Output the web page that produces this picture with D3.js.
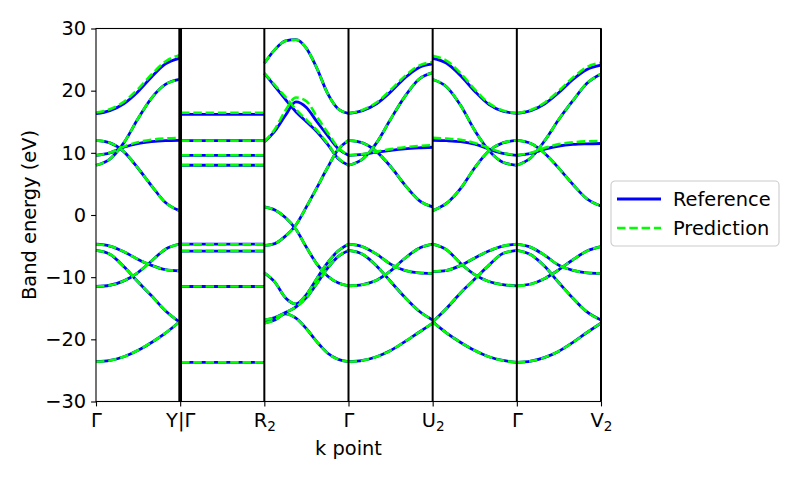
<!DOCTYPE html>
<html>
<head>
<meta charset="utf-8">
<script src="https://cdn.jsdelivr.net/npm/d3@7"></script>
<style>
    body { margin: 0; background: #fff; }
    svg { font-family: "DejaVu Sans", sans-serif; }
</style>
</head>
<body>
<svg id="chart" width="800" height="480"></svg>
<script>
// high-symmetry path: tick positions and labels ("_" marks a subscript)
const kTicks = [0, 1, 2, 3, 4, 5, 6];
const kLabels = ['Γ', 'Y|Γ', 'R_2', 'Γ', 'U_2', 'Γ', 'V_2'];
const kLines = [0.99, 1.01, 2, 3, 4, 5, 6];
const energyTicks = [-30, -20, -10, 0, 10, 20, 30];

// start / end k of every path segment
const segments = [[0, 0.99], [1.01, 2], [2, 3], [3, 4], [4, 5], [5, 6]];

// band energies (eV) sampled evenly along each segment
const refGammaY = [
    [16.3, 16.8, 17.9, 19.8, 22.2, 24.3, 25.2],
    [8.0, 9.0, 11.6, 15.4, 18.8, 21.0, 21.8],
    [12.0, 11.6, 10.2, 7.6, 4.7, 2.0, 0.7],
    [9.6, 10.0, 10.9, 11.5, 11.8, 11.95, 12.0],
    [-4.7, -5.0, -5.9, -7.1, -8.1, -8.8, -9.0],
    [-5.7, -6.3, -8.3, -10.7, -13.0, -15.4, -17.2],
    [-11.5, -11.3, -10.6, -9.3, -7.4, -5.5, -4.7],
    [-23.6, -23.4, -22.8, -21.8, -20.5, -19.0, -17.2]
];
const predGammaY = [
    [16.5, 17.0, 18.2, 20.2, 22.6, 24.7, 25.7],
    [8.0, 9.0, 11.6, 15.4, 18.8, 21.0, 21.8],
    [12.0, 11.6, 10.2, 7.6, 4.7, 2.0, 0.7],
    [9.6, 10.0, 11.0, 11.7, 12.1, 12.3, 12.4],
    [-4.7, -5.0, -5.9, -7.1, -8.1, -8.8, -9.0],
    [-5.7, -6.3, -8.3, -10.7, -13.0, -15.4, -17.2],
    [-11.5, -11.3, -10.6, -9.3, -7.4, -5.5, -4.7],
    [-23.6, -23.4, -22.8, -21.8, -20.5, -19.0, -17.2]
];

const refGammaR2 = [
    [16.2, 16.2], [11.95, 11.95], [9.6, 9.6], [8.0, 8.0],
    [-4.7, -4.7], [-5.8, -5.8], [-11.5, -11.5], [-23.7, -23.7]
];
const predGammaR2 = [
    [16.45, 16.45], [11.95, 11.95], [9.6, 9.6], [8.0, 8.0],
    [-4.7, -4.7], [-5.8, -5.8], [-11.5, -11.5], [-23.7, -23.7]
];

const refR2Gamma = [
    [24.4, 26.6, 28.0, 28.2, 26.8, 23.6, 19.6, 17.1, 16.35],
    [22.8, 20.7, 18.6, 16.6, 15.0, 13.4, 11.4, 9.1, 8.0],
    [11.8, 13.5, 16.0, 18.2, 17.3, 15.0, 12.8, 10.7, 9.6],
    [1.3, 0.8, -0.4, -2.3, -5.2, -7.9, -9.8, -10.9, -11.4],
    [-4.9, -4.6, -3.4, -1.6, 1.3, 4.4, 7.6, 10.5, 12.0],
    [-9.3, -10.8, -13.3, -14.3, -12.8, -10.2, -7.7, -5.8, -4.7],
    [-16.9, -16.5, -15.7, -14.8, -13.3, -11.0, -8.6, -6.7, -5.7],
    [-17.4, -16.9, -15.9, -16.6, -18.3, -20.4, -22.2, -23.2, -23.6]
];
const predR2Gamma = [
    [24.4, 26.6, 28.0, 28.2, 26.8, 23.6, 19.6, 17.1, 16.35],
    [22.8, 20.9, 19.0, 17.0, 15.3, 13.6, 11.5, 9.2, 8.0],
    [11.8, 13.8, 16.8, 18.9, 18.3, 15.8, 13.3, 10.9, 9.6],
    [1.3, 0.8, -0.4, -2.3, -5.2, -7.9, -9.8, -10.9, -11.4],
    [-4.9, -4.6, -3.4, -1.6, 1.3, 4.4, 7.6, 10.5, 12.0],
    [-9.3, -10.8, -13.3, -14.3, -12.8, -10.2, -7.7, -5.8, -4.7],
    [-16.9, -16.5, -15.7, -14.8, -13.3, -11.0, -8.6, -6.7, -5.7],
    [-17.4, -16.9, -15.9, -16.6, -18.3, -20.4, -22.2, -23.2, -23.6]
];

const refGammaU2 = [
    [16.35, 16.8, 17.9, 19.8, 22.0, 23.7, 24.3],
    [8.0, 9.0, 11.6, 15.4, 19.0, 21.8, 22.9],
    [12.0, 11.6, 10.2, 7.8, 4.9, 2.4, 1.3],
    [9.6, 9.75, 10.1, 10.4, 10.65, 10.8, 10.9],
    [-4.7, -5.1, -6.3, -7.9, -8.9, -9.3, -9.4],
    [-5.7, -6.3, -8.2, -10.7, -13.2, -15.4, -16.9],
    [-11.4, -11.2, -10.5, -9.0, -7.0, -5.4, -4.7],
    [-23.6, -23.4, -22.8, -21.8, -20.4, -18.9, -17.4]
];
const predGammaU2 = [
    [16.35, 16.9, 18.1, 20.1, 22.3, 24.0, 24.6],
    [8.0, 9.0, 11.6, 15.4, 19.0, 21.8, 22.9],
    [12.0, 11.6, 10.2, 7.8, 4.9, 2.4, 1.3],
    [9.6, 9.8, 10.2, 10.6, 10.9, 11.1, 11.25],
    [-4.7, -5.1, -6.3, -7.9, -8.9, -9.3, -9.4],
    [-5.7, -6.3, -8.2, -10.7, -13.2, -15.4, -16.9],
    [-11.4, -11.2, -10.5, -9.0, -7.0, -5.4, -4.7],
    [-23.6, -23.4, -22.8, -21.8, -20.4, -18.9, -17.4]
];

const refU2Gamma = [
    [25.2, 24.4, 22.4, 19.9, 17.8, 16.7, 16.35],
    [21.8, 20.6, 17.6, 13.6, 10.4, 8.5, 8.0],
    [12.0, 11.95, 11.8, 11.4, 10.6, 9.9, 9.6],
    [0.7, 1.9, 4.3, 7.6, 10.3, 11.6, 12.0],
    [-4.7, -5.6, -7.8, -9.6, -10.7, -11.2, -11.4],
    [-9.1, -8.9, -8.1, -6.9, -5.8, -5.0, -4.7],
    [-17.2, -15.0, -12.5, -10.3, -8.1, -6.2, -5.7],
    [-17.2, -19.0, -20.5, -21.8, -22.8, -23.4, -23.7]
];
const predU2Gamma = [
    [25.6, 24.8, 22.8, 20.2, 18.0, 16.8, 16.4],
    [21.8, 20.6, 17.6, 13.6, 10.4, 8.5, 8.0],
    [12.4, 12.3, 12.1, 11.6, 10.8, 10.0, 9.6],
    [0.7, 1.9, 4.3, 7.6, 10.3, 11.6, 12.0],
    [-4.7, -5.6, -7.8, -9.6, -10.7, -11.2, -11.4],
    [-9.1, -8.9, -8.1, -6.9, -5.8, -5.0, -4.7],
    [-17.2, -15.0, -12.5, -10.3, -8.1, -6.2, -5.7],
    [-17.2, -19.0, -20.5, -21.8, -22.8, -23.4, -23.7]
];

const refGammaV2 = [
    [16.35, 16.8, 17.9, 19.7, 21.8, 23.4, 24.1],
    [8.0, 9.2, 12.0, 15.4, 18.4, 21.2, 22.7],
    [12.0, 11.5, 9.9, 7.5, 4.9, 2.6, 1.45],
    [9.6, 9.9, 10.6, 11.1, 11.35, 11.45, 11.5],
    [-4.7, -5.2, -6.5, -8.1, -8.9, -9.3, -9.4],
    [-5.7, -6.4, -8.3, -10.9, -13.4, -15.6, -16.9],
    [-11.4, -11.1, -10.2, -8.8, -7.2, -5.8, -5.1],
    [-23.7, -23.5, -22.9, -21.9, -20.5, -18.9, -17.4]
];
const predGammaV2 = [
    [16.4, 16.9, 18.1, 20.0, 22.1, 23.8, 24.5],
    [8.0, 9.2, 12.0, 15.4, 18.4, 21.2, 22.7],
    [12.0, 11.5, 9.9, 7.5, 4.9, 2.6, 1.45],
    [9.6, 10.0, 10.8, 11.4, 11.7, 11.85, 11.9],
    [-4.7, -5.2, -6.5, -8.1, -8.9, -9.3, -9.4],
    [-5.7, -6.4, -8.3, -10.9, -13.4, -15.6, -16.9],
    [-11.4, -11.1, -10.2, -8.8, -7.2, -5.8, -5.1],
    [-23.7, -23.5, -22.9, -21.9, -20.5, -18.9, -17.4]
];

const refBands = [refGammaY, refGammaR2, refR2Gamma, refGammaU2, refU2Gamma, refGammaV2];
const predBands = [predGammaY, predGammaR2, predR2Gamma, predGammaU2, predU2Gamma, predGammaV2];

const seriesNames = ['Reference', 'Prediction'];

// ---------------------------------------------------------------

const fontSize = 19.4;
const plot = {left: 96, right: 601, top: 28.5, bottom: 401.5};
const refStyle = {stroke: '#0000ff', width: 2.8, dash: null};
const predStyle = {stroke: '#00ff00', width: 2.6, dash: '8.5,3.8'};

const svg = d3.select('#chart');

let x = d3.scaleLinear().domain([0, 6]).range([plot.left, plot.right]);
let y = d3.scaleLinear().domain([-30, 30]).range([plot.bottom, plot.top]);

let line = d3.line()
    .x(function(d) { return x(d[0]); })
    .y(function(d) { return y(d[1]); })
    .curve(d3.curveMonotoneX);

function bandPoints(seg, values) {
    let k0 = seg[0], k1 = seg[1];
    return values.map(function(v, i) {
        return [k0 + (k1 - k0) * i / (values.length - 1), v];
    });
}

function drawBands(bandSets, cls, style) {
    let g = svg.append('g').attr('class', cls);
    bandSets.forEach(function(bands, s) {
        bands.forEach(function(values) {
            g.append('path')
                .attr('d', line(bandPoints(segments[s], values)))
                .attr('fill', 'none')
                .attr('stroke', style.stroke)
                .attr('stroke-width', style.width)
                .attr('stroke-dasharray', style.dash);
        });
    });
}

drawBands(refBands, 'reference', refStyle);
drawBands(predBands, 'prediction', predStyle);

// separators between path segments
svg.append('g').selectAll('line')
    .data(kLines)
    .enter().append('line')
    .attr('x1', function(d) { return x(d); })
    .attr('x2', function(d) { return x(d); })
    .attr('y1', plot.top)
    .attr('y2', plot.bottom)
    .attr('stroke', 'black')
    .attr('stroke-width', 2);

// frame
svg.append('rect')
    .attr('x', plot.left)
    .attr('y', plot.top)
    .attr('width', plot.right - plot.left)
    .attr('height', plot.bottom - plot.top)
    .attr('fill', 'none')
    .attr('stroke', 'black')
    .attr('stroke-width', 1.1);

// y axis
let yAxis = svg.append('g')
    .attr('transform', 'translate(' + plot.left + ',0)')
    .call(d3.axisLeft(y)
        .tickValues(energyTicks)
        .tickSize(4.9)
        .tickPadding(4.9)
        .tickFormat(function(d) { return d < 0 ? '\u2212' + Math.abs(d) : d; }));
yAxis.select('.domain').remove();
yAxis.selectAll('line').attr('stroke', 'black').attr('stroke-width', 1.1);
yAxis.selectAll('text')
    .attr('font-size', fontSize)
    .attr('font-family', '"DejaVu Sans", sans-serif')
    .attr('fill', 'black');

// x axis with subscript labels
let xAxis = svg.append('g')
    .attr('transform', 'translate(0,' + plot.bottom + ')')
    .call(d3.axisBottom(x)
        .tickValues(kTicks)
        .tickSize(4.9)
        .tickFormat(''));
xAxis.select('.domain').remove();
xAxis.selectAll('line').attr('stroke', 'black').attr('stroke-width', 1.1);
xAxis.selectAll('.tick').each(function(d, i) {
    let parts = kLabels[i].split('_');
    let t = d3.select(this).select('text')
        .text(null)
        .attr('y', null)
        .attr('dy', null)
        .attr('transform', 'translate(0,25)')
        .attr('font-size', fontSize)
        .attr('font-family', '"DejaVu Sans", sans-serif')
        .attr('fill', 'black')
        .attr('text-anchor', 'middle');
    t.append('tspan').text(parts[0]);
    if (parts.length > 1) {
        t.append('tspan')
            .attr('font-size', fontSize * 0.7)
            .attr('dy', 4.5)
            .text(parts[1]);
    }
});

// axis titles
svg.append('text')
    .attr('x', (plot.left + plot.right) / 2)
    .attr('y', 455)
    .attr('text-anchor', 'middle')
    .attr('font-size', fontSize)
    .text('k point');

svg.append('text')
    .attr('transform', 'translate(36,' + (plot.top + plot.bottom) / 2 + ') rotate(-90)')
    .attr('text-anchor', 'middle')
    .attr('font-size', fontSize)
    .text('Band energy (eV)');

// legend
let legend = svg.append('g').attr('transform', 'translate(611,181)');
legend.append('rect')
    .attr('width', 168)
    .attr('height', 65)
    .attr('rx', 4)
    .attr('fill', 'white')
    .attr('fill-opacity', 0.8)
    .attr('stroke', '#cccccc')
    .attr('stroke-width', 1.1);

let legendStyles = [refStyle, predStyle];
let entries = legend.selectAll('g.entry')
    .data(seriesNames)
    .enter().append('g')
    .attr('class', 'entry')
    .attr('transform', function(d, i) { return 'translate(0,' + (18 + i * 29) + ')'; });
entries.append('line')
    .attr('x1', 6)
    .attr('x2', 50)
    .attr('stroke', function(d, i) { return legendStyles[i].stroke; })
    .attr('stroke-width', function(d, i) { return legendStyles[i].width; })
    .attr('stroke-dasharray', function(d, i) { return legendStyles[i].dash; });
entries.append('text')
    .attr('x', 62)
    .attr('dy', '0.35em')
    .attr('font-size', fontSize)
    .text(function(d) { return d; });
</script>
</body>
</html>
